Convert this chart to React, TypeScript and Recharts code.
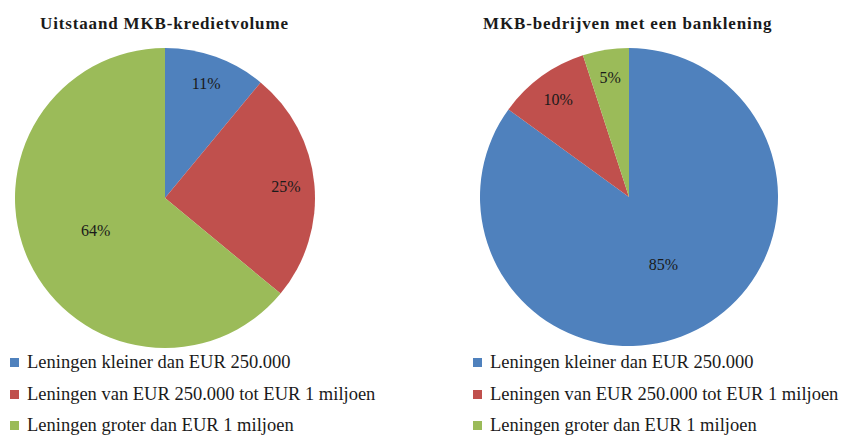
import { Cell, Pie, PieChart } from 'recharts'

// Categorieën (legenda) en de percentages per taart.
const CATEGORIES = [
  'Leningen kleiner dan EUR 250.000',
  'Leningen van EUR 250.000 tot EUR 1 miljoen',
  'Leningen groter dan EUR 1 miljoen',
]
const KREDIETVOLUME = [11, 25, 64]
const BEDRIJVEN = [85, 10, 5]
const TITLES = ['Uitstaand MKB-kredietvolume', 'MKB-bedrijven met een banklening']

const COLORS = ['#4F81BD', '#C0504D', '#9BBB59']
const FONT = '"Liberation Serif", "Times New Roman", serif'
const RADIAN = Math.PI / 180

const toRows = (values: number[]) => CATEGORIES.map((name, i) => ({ name, value: values[i] }))

// Excel "best fit": kleine stukken label naar buiten, grote meer naar het midden.
function renderLabel(props: any) {
  const { cx, cy, midAngle, outerRadius, percent, value } = props
  const r = outerRadius * (percent > 0.5 ? 0.51 : 0.81)
  const x = cx + r * Math.cos(-midAngle * RADIAN)
  const y = cy + r * Math.sin(-midAngle * RADIAN)
  return (
    <text x={x} y={y} textAnchor="middle" dominantBaseline="central" fill="#1a1a1a" fontSize={16} fontFamily={FONT}>
      {`${value}%`}
    </text>
  )
}

function Legend({ left }: { left: number }) {
  return (
    <div style={{ position: 'absolute', left, top: 347, fontFamily: FONT, fontSize: 18.5, color: '#1a1a1a' }}>
      {CATEGORIES.map((c, i) => (
        <div key={c} style={{ display: 'flex', alignItems: 'center', height: 31.5, whiteSpace: 'nowrap' }}>
          <span style={{ width: 9, height: 9, background: COLORS[i], marginRight: 8, flexShrink: 0 }} />
          {c}
        </div>
      ))}
    </div>
  )
}

const titleStyle = {
  position: 'absolute' as const,
  top: 14,
  fontFamily: FONT,
  fontWeight: 'bold' as const,
  fontSize: 17,
  letterSpacing: 0.85,
  color: '#1a1a1a',
  whiteSpace: 'nowrap' as const,
}

export default function App() {
  return (
    <div style={{ position: 'relative', width: 862, height: 439, background: '#fff', overflow: 'hidden' }}>
      <style>{'body{margin:0}'}</style>
      <div style={{ ...titleStyle, left: 40 }}>{TITLES[0]}</div>
      <div style={{ ...titleStyle, left: 483 }}>{TITLES[1]}</div>
      <div style={{ position: 'absolute', left: 0, top: 0 }}>
        <PieChart width={862} height={350} margin={{ top: 0, right: 0, bottom: 0, left: 0 }}>
          <Pie
            data={toRows(KREDIETVOLUME)}
            dataKey="value"
            cx={165}
            cy={198}
            outerRadius={150}
            startAngle={90}
            endAngle={-270}
            stroke="none"
            label={renderLabel}
            labelLine={false}
            isAnimationActive={false}
          >
            {KREDIETVOLUME.map((_, i) => (
              <Cell key={i} fill={COLORS[i]} />
            ))}
          </Pie>
          <Pie
            data={toRows(BEDRIJVEN)}
            dataKey="value"
            cx={629}
            cy={197}
            outerRadius={149}
            startAngle={90}
            endAngle={-270}
            stroke="none"
            label={renderLabel}
            labelLine={false}
            isAnimationActive={false}
          >
            {BEDRIJVEN.map((_, i) => (
              <Cell key={i} fill={COLORS[i]} />
            ))}
          </Pie>
        </PieChart>
      </div>
      <Legend left={10} />
      <Legend left={473} />
    </div>
  )
}
